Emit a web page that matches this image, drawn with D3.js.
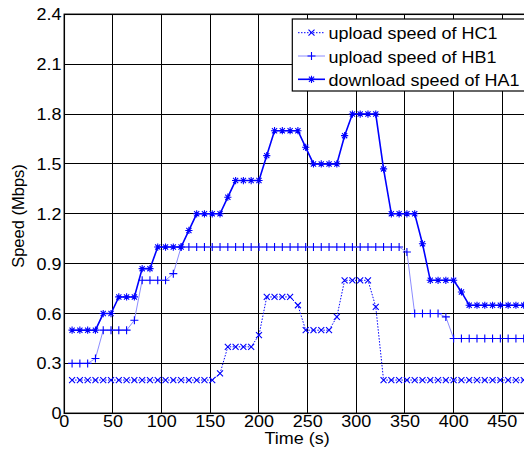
<!DOCTYPE html>
<html>
<head>
<meta charset="utf-8">
<script src="https://d3js.org/d3.v7.min.js"></script>
<title>Upload / download speed</title>
<style>
body { margin: 0; background: #fff; }
svg { display: block; }
text { font-family: "Liberation Sans", Arial, sans-serif; font-size: 16.5px; fill: #000; }
</style>
</head>
<body>
<svg width="524" height="458"></svg>
<script>

// sample times (s)
let times = [8,16,24,32,40,48,56,64,72,80,88,96,104,112,120,128,136,144,152,160,
  168,176,184,192,200,208,216,224,232,240,248,256,264,272,280,288,296,304,312,320,
  328,336,344,352,360,368,376,384,392,400,408,416,424,432,440,448,456,464,472,480];

// upload speed of HC1 (Mbps)
let hc1 = [0.2,0.2,0.2,0.2,0.2,0.2,0.2,0.2,0.2,0.2,0.2,0.2,0.2,0.2,0.2,0.2,0.2,0.2,0.2,0.24,
  0.4,0.4,0.4,0.4,0.47,0.7,0.7,0.7,0.7,0.65,0.5,0.5,0.5,0.5,0.58,0.8,0.8,0.8,0.8,0.64,
  0.2,0.2,0.2,0.2,0.2,0.2,0.2,0.2,0.2,0.2,0.2,0.2,0.2,0.2,0.2,0.2,0.2,0.2,0.2,0.2];

// upload speed of HB1 (Mbps)
let hb1 = [0.3,0.3,0.3,0.33,0.5,0.5,0.5,0.5,0.56,0.8,0.8,0.8,0.8,0.84,1.0,1.0,1.0,1.0,1.0,1.0,
  1.0,1.0,1.0,1.0,1.0,1.0,1.0,1.0,1.0,1.0,1.0,1.0,1.0,1.0,1.0,1.0,1.0,1.0,1.0,1.0,
  1.0,1.0,1.0,0.97,0.6,0.6,0.6,0.6,0.58,0.45,0.45,0.45,0.45,0.45,0.45,0.45,0.45,0.45,0.45,0.45];

// download speed of HA1 (Mbps)
let ha1 = [0.5,0.5,0.5,0.5,0.6,0.6,0.7,0.7,0.7,0.87,0.87,1.0,1.0,1.0,1.0,1.1,1.2,1.2,1.2,1.2,
  1.3,1.4,1.4,1.4,1.4,1.55,1.7,1.7,1.7,1.7,1.6,1.5,1.5,1.5,1.5,1.67,1.8,1.8,1.8,1.8,
  1.47,1.2,1.2,1.2,1.2,1.02,0.8,0.8,0.8,0.8,0.73,0.65,0.65,0.65,0.65,0.65,0.65,0.65,0.65,0.65];

let xTicks = [0,50,100,150,200,250,300,350,400,450];
let yTicks = [0,0.3,0.6,0.9,1.2,1.5,1.8,2.1,2.4];
let yTickLabels = ["0","0.3","0.6","0.9","1.2","1.5","1.8","2.1","2.4"];

let legendNames = ["upload speed of HC1","upload speed of HB1","download speed of HA1"];

let series = [
  {name: legendNames[0], values: hc1, marker: "x", width: 1, color: "#0000ff", dash: "1.5,1.5"},
  {name: legendNames[1], values: hb1, marker: "+", width: 1, color: "#8c8cff", dash: null},
  {name: legendNames[2], values: ha1, marker: "*", width: 1.6, color: "#0000ff", dash: null}
];

let svg = d3.select("svg");
let x = d3.scaleLinear().domain([0,480]).range([64.3,531.5]);
let y = d3.scaleLinear().domain([0,2.4]).range([413.3,14.3]);
let sx = 1.09; // text looks a bit wide in the picture

function label(g, px, py, str, anchor) {
  g.append("g").attr("transform", "translate(" + px + "," + py + ")")
    .append("text").attr("transform", "scale(" + sx + ",1)")
    .attr("text-anchor", anchor).text(str);
}

function markerPath(kind, r) {
  if (kind == "x") return "M" + -r + "," + -r + "L" + r + "," + r + "M" + -r + "," + r + "L" + r + "," + -r;
  if (kind == "+") return "M" + -r + ",0L" + r + ",0M0," + -r + "L0," + r;
  let d = r * 0.72;
  return "M" + -r + ",0L" + r + ",0M0," + -r + "L0," + r +
    "M" + -d + "," + -d + "L" + d + "," + d + "M" + -d + "," + d + "L" + d + "," + -d;
}
let markerSize = {"x": 3, "+": 4, "*": 3.6};

// grid
let grid = svg.append("g").attr("stroke", "#000").attr("stroke-width", 1).attr("shape-rendering", "crispEdges");
grid.selectAll(".gx").data(xTicks.slice(1)).enter().append("line")
  .attr("x1", d => x(d)).attr("x2", d => x(d)).attr("y1", y(0)).attr("y2", y(2.4));
grid.selectAll(".gy").data(yTicks.slice(1, -1)).enter().append("line")
  .attr("x1", x(0)).attr("x2", x(480)).attr("y1", d => y(d)).attr("y2", d => y(d));

// box
svg.append("rect").attr("x", x(0)).attr("y", y(2.4))
  .attr("width", x(480) - x(0)).attr("height", y(0) - y(2.4))
  .attr("fill", "none").attr("stroke", "#000").attr("stroke-width", 1.5);

// tick labels
let labels = svg.append("g");
xTicks.forEach(t => label(labels, x(t), 426.5, String(t), "middle"));
yTicks.forEach((t, i) => label(labels, 61.5, y(t) + 6, yTickLabels[i], "end"));
label(labels, 297, 443.5, "Time (s)", "middle");
svg.append("text").attr("transform", "translate(24,216) rotate(-90)")
  .attr("text-anchor", "middle").text("Speed (Mbps)");

// series
svg.append("clipPath").attr("id", "plotclip").append("rect")
  .attr("x", x(0)).attr("y", y(2.4)).attr("width", x(480) - x(0)).attr("height", y(0) - y(2.4));
let plot = svg.append("g").attr("clip-path", "url(#plotclip)");

let line = d3.line().x(d => x(d[0])).y(d => y(d[1]));

series.forEach(s => {
  let pts = times.map((t, i) => [t, s.values[i]]);
  plot.append("path").datum(pts).attr("d", line)
    .attr("fill", "none").attr("stroke", s.color).attr("stroke-width", s.width)
    .attr("stroke-dasharray", s.dash);
  plot.selectAll(null).data(pts).enter().append("path")
    .attr("transform", d => "translate(" + x(d[0]) + "," + y(d[1]) + ")")
    .attr("d", markerPath(s.marker, markerSize[s.marker]))
    .attr("fill", "none").attr("stroke", "#0000ff").attr("stroke-width", 1.1);
});

// legend
let legend = svg.append("g");
legend.append("rect").attr("x", 292.3).attr("y", 19).attr("width", 240).attr("height", 72)
  .attr("fill", "#fff").attr("stroke", "#000").attr("stroke-width", 1.2);
series.forEach((s, i) => {
  let ly = 32.7 + i * 23.3;
  legend.append("line").attr("x1", 298).attr("x2", 325).attr("y1", ly).attr("y2", ly)
    .attr("stroke", s.color).attr("stroke-width", s.width).attr("stroke-dasharray", s.dash);
  legend.append("path").attr("transform", "translate(311.5," + ly + ")")
    .attr("d", markerPath(s.marker, markerSize[s.marker]))
    .attr("fill", "none").attr("stroke", "#0000ff").attr("stroke-width", 1.1);
  label(legend, 328.5, ly + 6.5, s.name, "start");
});

</script>
</body>
</html>
